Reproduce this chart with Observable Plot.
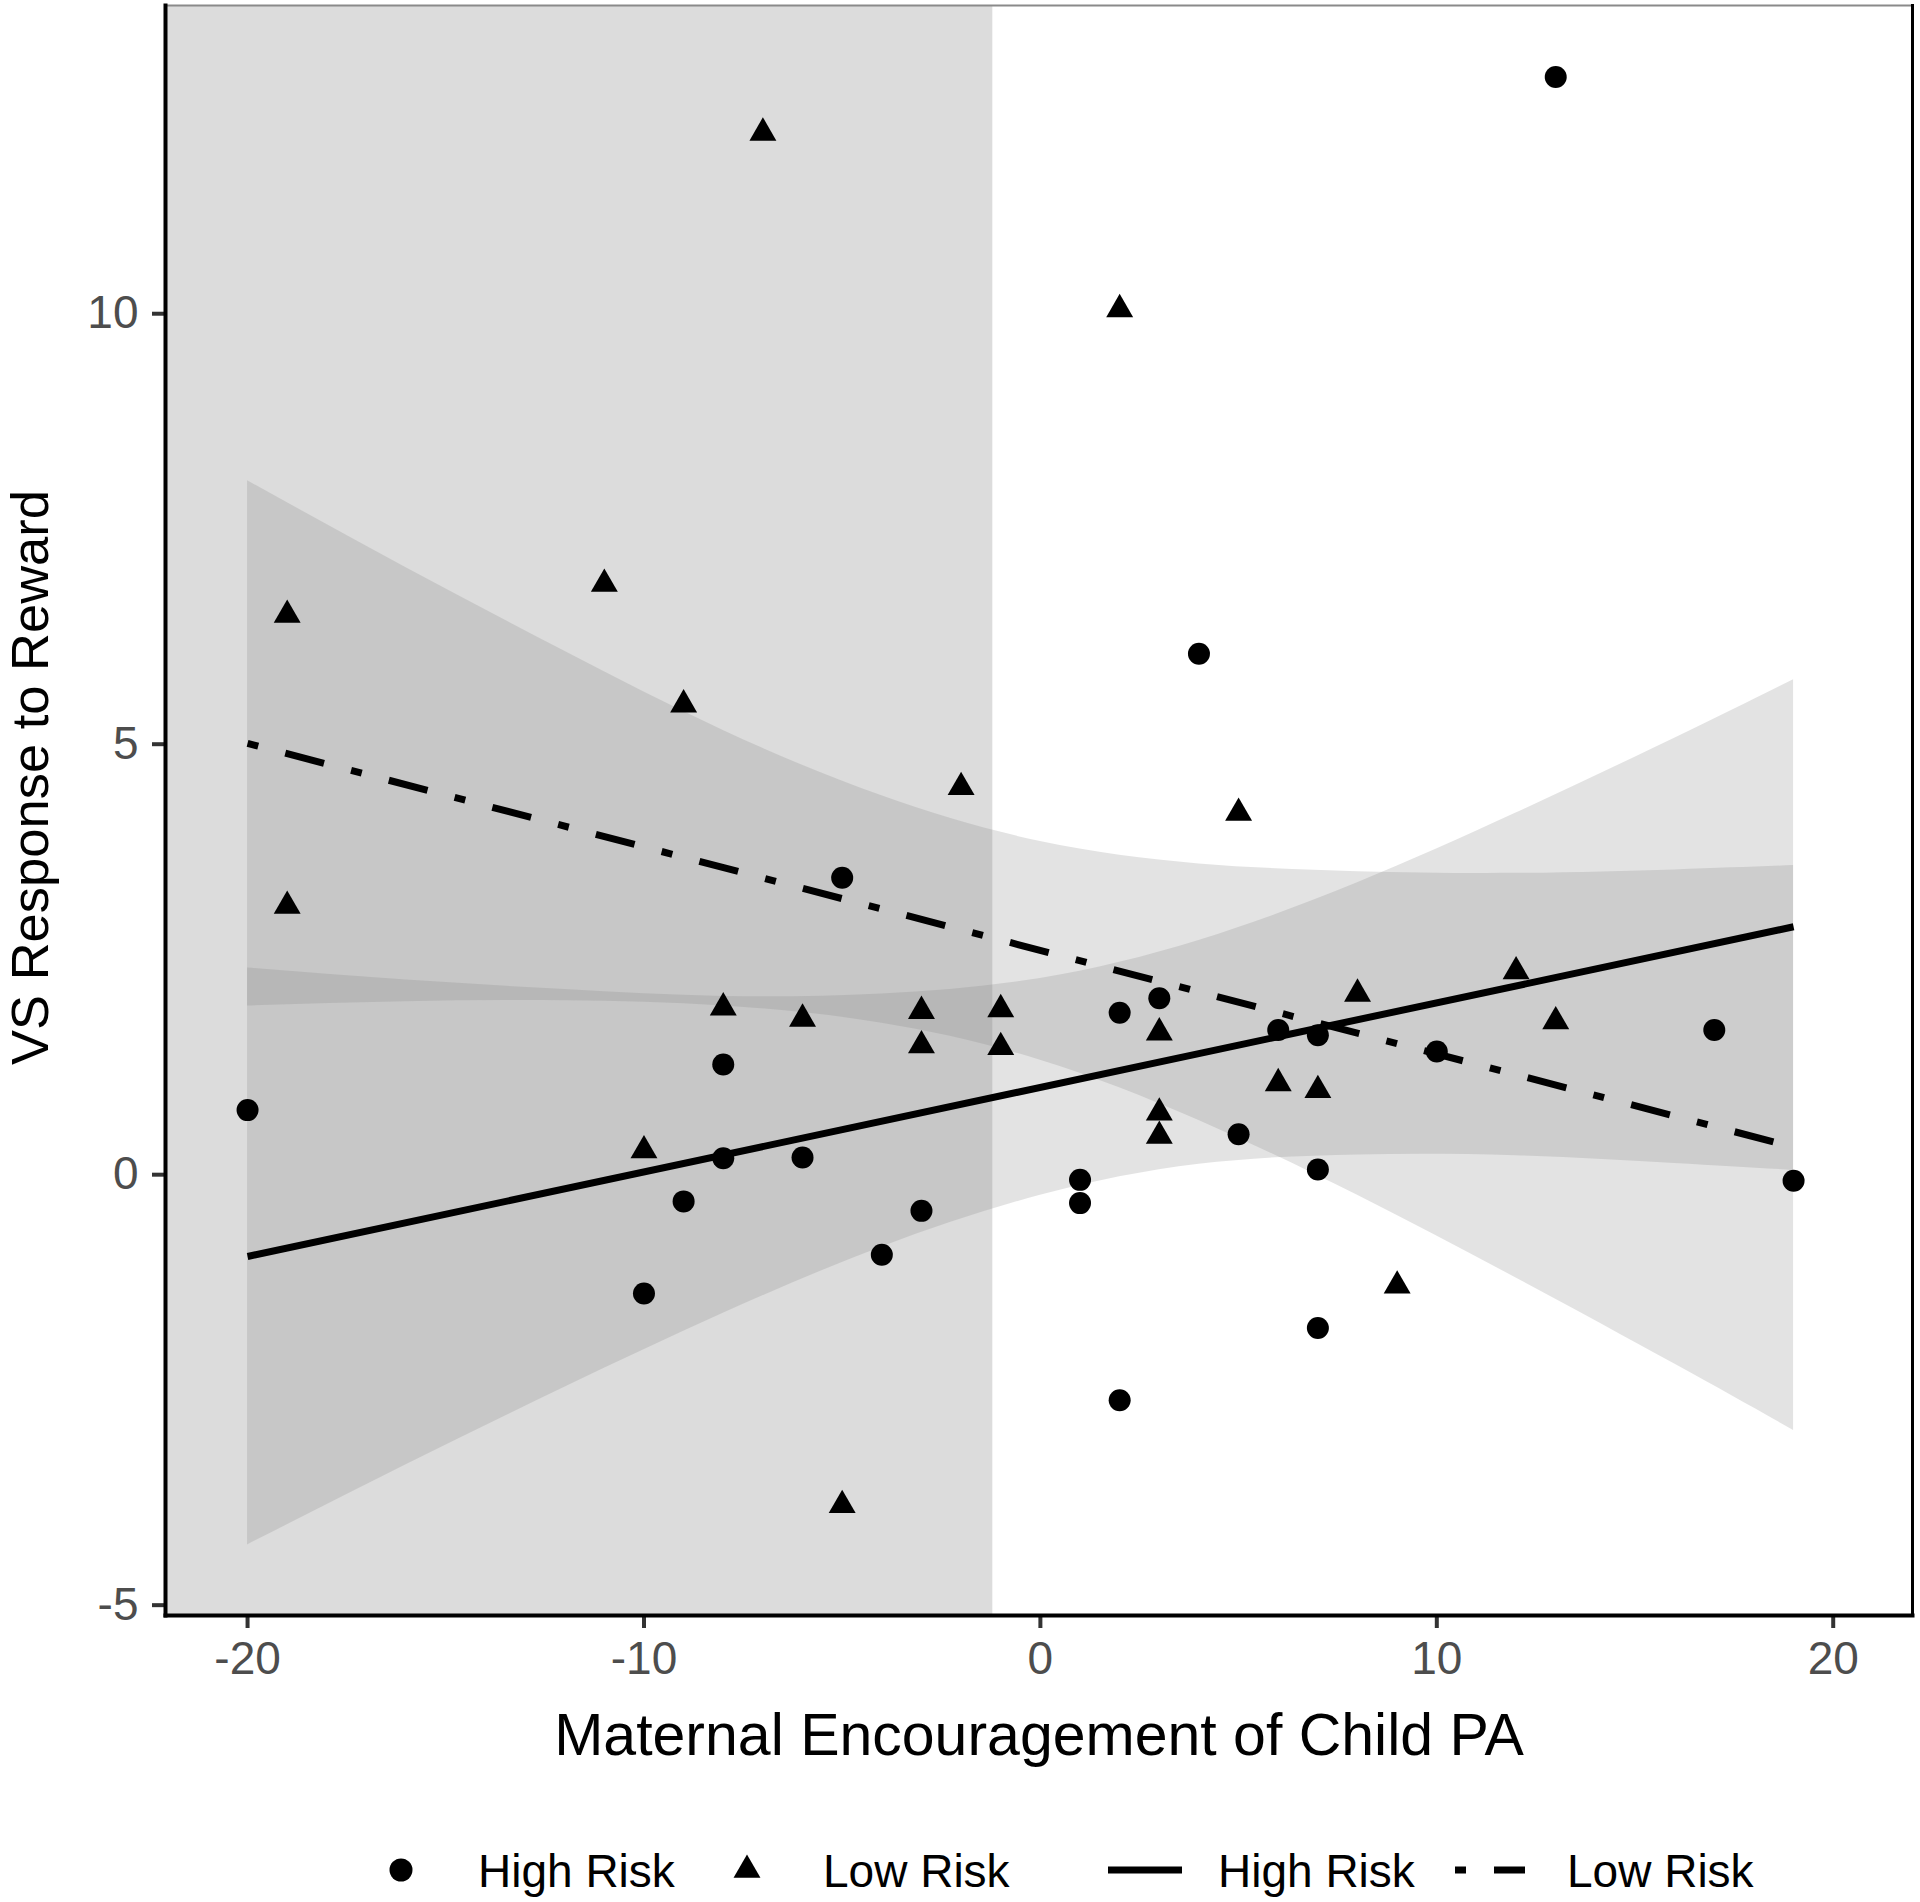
<!DOCTYPE html>
<html>
<head>
<meta charset="utf-8">
<script src="https://cdn.jsdelivr.net/npm/d3@7"></script>
<script src="https://cdn.jsdelivr.net/npm/@observablehq/plot@0.6"></script>
<style>
html, body { margin: 0; padding: 0; background: #fff; }
#chart { width: 1920px; }
#chart svg { display: block; }
[aria-label="x-axis tick label"], [aria-label="y-axis tick label"] { fill: #4d4d4d; }
</style>
</head>
<body>
<div id="chart"></div>
<script>
// ---- axis settings ----
const xTicks = [-20, -10, 0, 10, 20];
const yTicks = [-5, 0, 5, 10];
const xDomain = [-22.07, 22.0];
const yDomain = [-5.12, 13.58];
const xTitle = "Maternal Encouragement of Child PA";
const yTitle = "VS Response to Reward";

// Johnson–Neyman shaded region upper bound
const jnBoundary = -1.2;

// ---- High Risk points ----
const highX = [13, 4, -5, -20, -8, -8, -6, -9, -3, -10, -4, 1, 1, 2, 2, 3, 5, 6, 7, 7, 7, 10, 17, 19];
const highY = [12.75, 6.05, 3.45, 0.75, 1.28, 0.19, 0.2, -0.31, -0.42, -1.38, -0.93, -0.06, -0.33, 1.88, -2.62, 2.05, 0.47, 1.68, 1.62, 0.06, -1.78, 1.43, 1.68, -0.07];

// ---- Low Risk points ----
const lowX = [-7, 2, -19, -11, -9, -2, 5, -19, -8, -6, -3, -3, -1, -1, -10, 3, 3, 3, 6, 7, 8, 12, 13, 9, -5];
const lowY = [12.1, 10.05, 6.5, 6.86, 5.46, 4.5, 4.2, 3.12, 1.94, 1.81, 1.9, 1.5, 1.92, 1.48, 0.28, 1.65, 0.72, 0.45, 1.06, 0.98, 2.1, 2.36, 1.78, -1.29, -3.84];

// ---- fitted lines (read at the ends) ----
const fitX = [-20, 19];
const highFit = [-0.95, 2.88];
const lowFit = [5.01, 0.32];

// ---- confidence bands ----
const bandX = [-20, -16, -12, -8, -4, 0, 4, 8, 12, 16, 19];
const highLower = [-4.30, -3.37, -2.47, -1.61, -0.84, -0.24, 0.12, 0.23, 0.22, 0.13, 0.05];
const highUpper = [2.40, 2.26, 2.15, 2.07, 2.10, 2.28, 2.72, 3.39, 4.20, 5.07, 5.75];
const lowLower = [1.96, 2.01, 2.02, 1.96, 1.76, 1.33, 0.63, -0.24, -1.20, -2.20, -2.97];
const lowUpper = [8.06, 7.05, 6.08, 5.16, 4.40, 3.87, 3.61, 3.52, 3.50, 3.54, 3.59];

// ---- legend ----
const legendLabels = ["High Risk", "Low Risk", "High Risk", "Low Risk"];

// ---- build tables ----
const high = highX.map((x, i) => ({x, y: highY[i]}));
const low = lowX.map((x, i) => ({x, y: lowY[i]}));
const highLine = fitX.map((x, i) => ({x, y: highFit[i]}));
const lowLine = fitX.map((x, i) => ({x, y: lowFit[i]}));
const highBand = bandX.map((x, i) => ({x, lo: highLower[i], hi: highUpper[i]}));
const lowBand = bandX.map((x, i) => ({x, lo: lowLower[i], hi: lowUpper[i]}));
const jnRegion = [{x1: xDomain[0], x2: jnBoundary}];

const font = "'Liberation Sans', Arial, Helvetica, sans-serif";
const dashDot = "11,28,40,28";
const fmt = d => String(d);

const plot = Plot.plot({
  width: 1920,
  height: 1790,
  marginLeft: 165,
  marginRight: 8,
  marginTop: 5,
  marginBottom: 175,
  style: {fontFamily: font, background: "#fff", overflow: "visible"},
  x: {domain: xDomain},
  y: {domain: yDomain},
  marks: [
    Plot.rect(jnRegion, {x1: "x1", x2: "x2", fill: "#dcdcdc"}),
    Plot.areaY(lowBand, {x: "x", y1: "lo", y2: "hi", fill: "#808080", fillOpacity: 0.22, curve: "natural"}),
    Plot.areaY(highBand, {x: "x", y1: "lo", y2: "hi", fill: "#808080", fillOpacity: 0.22, curve: "natural"}),
    Plot.dot(high, {x: "x", y: "y", r: 11, symbol: "circle", fill: "black", stroke: "none"}),
    Plot.dot(low, {x: "x", y: "y", r: 10, symbol: "triangle", fill: "black", stroke: "none"}),
    Plot.line(highLine, {x: "x", y: "y", stroke: "black", strokeWidth: 7, strokeLinecap: "butt"}),
    Plot.line(lowLine, {x: "x", y: "y", stroke: "black", strokeWidth: 7, strokeLinecap: "butt", strokeDasharray: dashDot}),
    Plot.axisX(xTicks, {tickSize: 13, tickPadding: 13, fontSize: 46, strokeWidth: 4, color: "#333", label: null, tickFormat: fmt}),
    Plot.axisY(yTicks, {tickSize: 13, tickPadding: 14, fontSize: 46, strokeWidth: 4, color: "#333", label: null, tickFormat: fmt}),
    Plot.frame({anchor: "top", stroke: "#8a8a8a", strokeWidth: 2}),
    Plot.frame({anchor: "right", stroke: "black", strokeWidth: 3}),
    Plot.frame({anchor: "left", stroke: "black", strokeWidth: 4}),
    Plot.frame({anchor: "bottom", stroke: "black", strokeWidth: 4}),
    Plot.text([xTitle], {text: d => d, frameAnchor: "bottom", dy: 121, fontSize: 59, lineAnchor: "middle", textAnchor: "middle", fill: "black"}),
    Plot.text([yTitle], {text: d => d, frameAnchor: "left", rotate: -90, dx: -134, dy: -33, fontSize: 52.5, lineAnchor: "middle", textAnchor: "middle", fill: "black"})
  ]
});
document.getElementById("chart").appendChild(plot);

// ---- legend below the chart ----
const leg = d3.create("svg")
  .attr("width", 1920)
  .attr("height", 112)
  .style("display", "block")
  .style("font-family", font);
const cy = 80;
leg.append("circle").attr("cx", 401).attr("cy", cy).attr("r", 11.5).attr("fill", "black");
leg.append("path").attr("transform", `translate(747,${cy})`)
  .attr("d", d3.symbol(d3.symbolTriangle, Math.PI * 100)()).attr("fill", "black");
leg.append("line").attr("x1", 1108).attr("x2", 1182).attr("y1", cy).attr("y2", cy)
  .attr("stroke", "black").attr("stroke-width", 7);
leg.append("line").attr("x1", 1455).attr("x2", 1525).attr("y1", cy).attr("y2", cy)
  .attr("stroke", "black").attr("stroke-width", 7).attr("stroke-dasharray", dashDot);
const textX = [478, 823, 1218, 1567];
legendLabels.forEach((t, i) => {
  leg.append("text").attr("x", textX[i]).attr("y", cy + 16.5)
    .attr("font-size", 46).attr("fill", "black").text(t);
});
document.getElementById("chart").appendChild(leg.node());
</script>
</body>
</html>
